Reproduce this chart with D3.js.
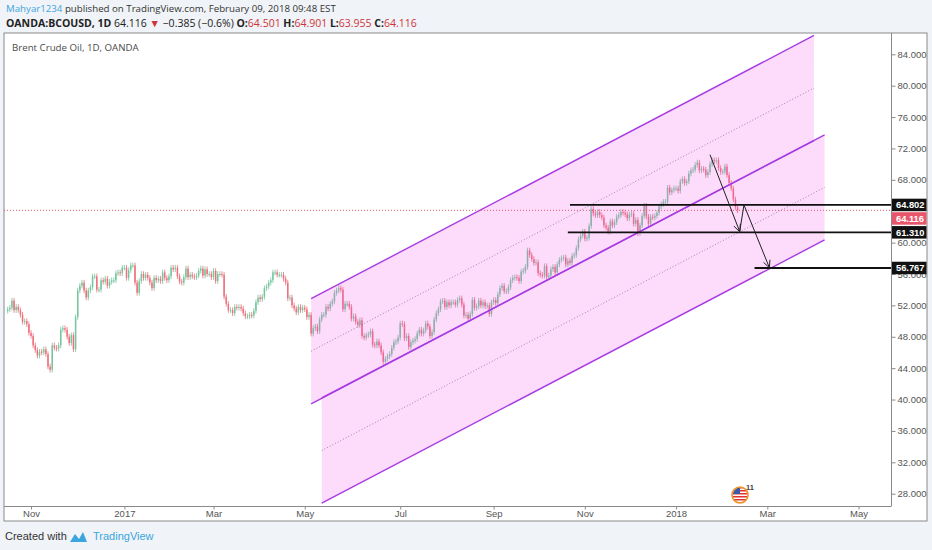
<!DOCTYPE html>
<html>
<head>
<meta charset="utf-8">
<script src="https://cdn.jsdelivr.net/npm/d3@7/dist/d3.min.js"></script>
<style>
  body { margin: 0; background: #f0f3f7; }
  svg { display: block; font-family: "Liberation Sans", Arial, sans-serif; }
</style>
</head>
<body>
<svg id="chart" width="932" height="550"></svg>
<script>
// daily Brent closes, one per weekday from 17 Oct 2016 to 9 Feb 2018
var firstDay = "2016-10-17";
var firstOpen = 51.3;
var closes = [
  // Oct 2016
  51.5, 51.7, 52.6, 51.4, 51.8, 51.4, 50.8, 49.9, 50.0, 49.6, 48.5,
  // Nov
  48.1, 46.9, 46.3, 45.6, 46.1, 46.0, 46.4, 45.8, 44.2, 43.8,
  46.9, 46.6, 46.5, 46.9, 48.9, 49.1, 48.9, 48.0, 47.2, 48.2, 46.4, 50.5,
  // Dec
  53.9, 54.5, 54.9, 53.9, 53.0, 53.9, 54.3, 55.7, 55.7, 54.0,
  54.0, 55.2, 55.0, 55.4, 54.5, 55.0, 55.2, 55.2, 56.1, 56.2, 56.1, 56.8,
  // Jan 2017
  56.8, 55.5, 56.5, 57.1, 57.1, 54.9, 53.6, 55.1, 56.0, 55.5,
  55.9, 55.5, 54.9, 54.2, 55.5, 55.2, 55.4, 55.1, 56.2, 55.5, 55.2, 55.7,
  // Feb
  56.8, 56.6, 56.8, 55.7, 55.05, 54.9, 55.6, 56.7, 55.6, 55.9,
  55.7, 55.6, 55.8, 56.4, 56.7, 55.8, 56.6, 56.0, 56.0, 55.6,
  // Mar
  56.4, 55.1, 56.0, 56.0, 55.9, 53.1, 52.2, 51.4, 51.4, 51.0,
  51.8, 51.7, 51.8, 51.6, 51.0, 50.6, 50.6, 50.8, 50.7, 51.3, 52.4, 53.0, 52.8,
  // Apr
  53.1, 54.2, 54.4, 54.9, 55.2, 56.2, 56.2, 55.9, 55.9, 55.9,
  55.4, 54.9, 52.9, 53.0, 52.0, 51.6, 51.1, 51.8, 51.4, 51.7,
  // May
  51.5, 50.5, 50.8, 48.4, 49.1, 49.3, 48.7, 50.2, 50.8, 50.8,
  51.8, 51.6, 52.2, 52.5, 53.6, 53.9, 54.2, 54.0, 51.5, 52.2, 52.2, 51.8, 50.3,
  // Jun
  50.6, 49.9, 49.5, 50.1, 48.1, 47.9, 48.2, 48.3, 48.7, 47.0,
  46.9, 47.4, 46.9, 46.0, 44.8, 45.2, 45.5, 45.8, 46.6, 47.3, 47.4, 47.9,
  // Jul
  49.7, 49.6, 47.8, 48.1, 46.7, 47.3, 47.5, 47.7, 48.4, 48.9,
  48.4, 48.8, 49.7, 49.3, 48.1, 48.6, 50.2, 51.0, 51.5, 52.5, 52.6,
  // Aug
  51.8, 52.4, 52.0, 52.4, 52.4, 52.1, 52.7, 52.9, 52.1, 50.7,
  50.8, 50.3, 50.9, 52.7, 51.7, 51.9, 52.6, 52.0, 52.4, 51.9, 52.0, 50.9, 52.4,
  // Sep
  52.7, 52.3, 53.4, 54.2, 54.5, 53.8, 53.8, 54.3, 55.2, 55.5,
  55.6, 55.5, 55.1, 56.3, 56.4, 56.9, 59.0, 58.4, 57.9, 57.4, 57.5,
  // Oct
  56.1, 55.9, 55.8, 57.0, 55.6, 55.8, 56.6, 56.9, 56.2, 57.2,
  57.8, 58.0, 58.1, 57.2, 57.7, 57.4, 58.3, 58.4, 59.3, 60.4, 60.9, 61.4,
  // Nov
  60.5, 60.6, 62.1, 64.3, 63.7, 63.5, 63.9, 63.5, 63.2, 62.2,
  61.9, 61.4, 62.7, 62.2, 62.6, 63.3, 63.5, 63.9, 63.8, 63.6, 63.1, 63.6,
  // Dec
  63.7, 62.4, 62.9, 61.2, 62.2, 63.4, 64.7, 63.3, 62.4, 63.3,
  63.2, 63.4, 63.8, 64.6, 64.9, 65.2, 65.2, 67.0, 66.4, 66.7, 66.9,
  // Jan 2018
  66.9, 66.6, 67.8, 68.1, 67.6, 67.8, 68.8, 69.2, 69.3, 69.9,
  70.2, 69.2, 69.4, 69.3, 68.6, 69.0, 70.0, 70.5, 70.4, 70.5, 69.5, 69.0, 69.05,
  // Feb
  69.7, 68.6, 67.6, 66.9, 65.5, 64.5, 64.116
];
var lastPrice = 64.116;
// 64.000 sits under the price tags in the original, so it is left out
var priceTicks = [28, 32, 36, 40, 44, 48, 52, 56, 60, 68, 72, 76, 80, 84];

// drawings: two parallel channels, three levels, two arrows
var channelFrom   = ["2017-05-04", "2017-05-11"];
var channelTo     = ["2018-04-02", "2018-04-09"];
var channelTopA   = [52.86, 86.40];
var channelTopB   = [40.20, 73.74];
var channelHeight = 13.4;
var levels    = [64.802, 61.310, 56.767];
var levelFrom = ["2017-10-23", "2017-10-20", "2018-02-21"];
var arrowOne = [["2018-01-23", 71.2], ["2018-02-12", 61.4]];
var arrowTwo = [["2018-02-12", 61.4], ["2018-02-14", 64.8], ["2018-03-02", 56.8]];

var svg = d3.select("#chart");
var L = 4, R = 891, T = 33, B = 506, W = 927, BB = 521;
var wickPad = 0.35;
var upColor = "#53b987", downColor = "#eb4d5c", purple = "#a83be3";

// trading days (weekdays) so bars sit side by side with no weekend gaps
var parse = d3.utcParse("%Y-%m-%d"), fmt = d3.utcFormat("%Y-%m-%d");
var days = [];
for (var d = parse(firstDay); days.length < 425; d = d3.utcDay.offset(d, 1)) {
  var wd = d.getUTCDay();
  if (wd != 0 && wd != 6) days.push(d);
}
var dayIndex = {};
days.forEach(function(d, i) { dayIndex[fmt(d)] = i; });
function bar(s) { return dayIndex[s]; }

var x = d3.scaleLinear().domain([-1.74, 416.3]).range([L, R]);
var y = d3.scaleLinear().domain([28, 84]).range([493.7, 54.3]);

// pane
svg.append("rect").attr("x", L).attr("y", T).attr("width", W - L).attr("height", BB - T)
  .attr("fill", "#fff").attr("stroke", "#8a8a8a");
svg.append("clipPath").attr("id", "plotclip").append("rect")
  .attr("x", L).attr("y", T).attr("width", R - L).attr("height", B - T);
var plot = svg.append("g").attr("clip-path", "url(#plotclip)");

// candles
var candles = closes.map(function(c, i) {
  return { i: i, o: i ? closes[i - 1] : firstOpen, c: c };
});
var cg = plot.append("g").attr("opacity", 0.8);
cg.selectAll("line").data(candles).enter().append("line")
  .attr("x1", function(d) { return x(d.i); })
  .attr("x2", function(d) { return x(d.i); })
  .attr("y1", function(d) { return y(Math.max(d.o, d.c) + wickPad); })
  .attr("y2", function(d) { return y(Math.min(d.o, d.c) - wickPad); })
  .attr("stroke", function(d) { return d.c >= d.o ? upColor : downColor; })
  .attr("stroke-width", 0.8);
cg.selectAll("rect").data(candles).enter().append("rect")
  .attr("x", function(d) { return x(d.i) - 0.75; })
  .attr("width", 1.5)
  .attr("y", function(d) { return y(Math.max(d.o, d.c)); })
  .attr("height", function(d) { return Math.max(1, Math.abs(y(d.o) - y(d.c))); })
  .attr("fill", function(d) { return d.c >= d.o ? upColor : downColor; });

// channels
var tops = [channelTopA, channelTopB];
tops.forEach(function(top, k) {
  var i0 = bar(channelFrom[k]), i1 = bar(channelTo[k]);
  var pts = [[i0, top[0]], [i1, top[1]], [i1, top[1] - channelHeight], [i0, top[0] - channelHeight]];
  plot.append("path")
    .attr("d", "M" + pts.map(function(p) { return x(p[0]) + "," + y(p[1]); }).join("L") + "Z")
    .attr("fill", "#f050e8").attr("fill-opacity", 0.2);
});
tops.forEach(function(top, k) {
  var i0 = bar(channelFrom[k]), i1 = bar(channelTo[k]);
  [0, channelHeight / 2, channelHeight].forEach(function(off, j) {
    plot.append("line")
      .attr("x1", x(i0)).attr("y1", y(top[0] - off))
      .attr("x2", x(i1)).attr("y2", y(top[1] - off))
      .attr("stroke", j == 1 ? "#8c6d99" : purple)
      .attr("stroke-width", j == 1 ? 0.8 : 1.4)
      .attr("stroke-dasharray", j == 1 ? "1,2" : null);
  });
});

// last price line
plot.append("line").attr("x1", L).attr("x2", R).attr("y1", y(lastPrice)).attr("y2", y(lastPrice))
  .attr("stroke", "#e9566b").attr("stroke-dasharray", "1,2");

// horizontal levels
levels.forEach(function(v, k) {
  plot.append("line").attr("x1", x(bar(levelFrom[k]))).attr("x2", R)
    .attr("y1", y(v)).attr("y2", y(v))
    .attr("stroke", "#111").attr("stroke-width", 1.8);
});

// arrows
function arrow(pts) {
  var p = pts.map(function(q) { return [x(bar(q[0])), y(q[1])]; });
  plot.append("path").attr("d", "M" + p.join("L"))
    .attr("fill", "none").attr("stroke", "#222").attr("stroke-width", 1);
  var a = p[p.length - 2], b = p[p.length - 1];
  var ang = Math.atan2(b[1] - a[1], b[0] - a[0]), len = 8, spread = 0.45;
  var h1 = [b[0] - len * Math.cos(ang - spread), b[1] - len * Math.sin(ang - spread)];
  var h2 = [b[0] - len * Math.cos(ang + spread), b[1] - len * Math.sin(ang + spread)];
  plot.append("path").attr("d", "M" + h1 + "L" + b + "L" + h2)
    .attr("fill", "none").attr("stroke", "#222").attr("stroke-width", 1);
}
arrow(arrowOne);
arrow(arrowTwo);

// borders of plot
svg.append("line").attr("x1", R + 0.5).attr("x2", R + 0.5).attr("y1", T).attr("y2", B)
  .attr("stroke", "#8a8a8a");
svg.append("line").attr("x1", L).attr("x2", R + 0.5).attr("y1", B + 0.5).attr("y2", B + 0.5)
  .attr("stroke", "#8a8a8a");

// price axis
var yAxis = svg.append("g").attr("transform", "translate(" + (R + 0.5) + ",0)")
  .call(d3.axisRight(y).tickValues(priceTicks).tickFormat(d3.format(".3f")).tickSize(4).tickPadding(2));
yAxis.select(".domain").remove();
yAxis.selectAll("line").attr("stroke", "#8a8a8a");
yAxis.selectAll("text").attr("fill", "#555").attr("font-size", 9.5);

// time axis: first bar of every other month
var monthTicks = [];
days.forEach(function(d, i) {
  if (i > 0 && d.getUTCMonth() != days[i - 1].getUTCMonth() && d.getUTCMonth() % 2 == 0 && x(i) < R)
    monthTicks.push(i);
});
var xAxis = svg.append("g").attr("transform", "translate(0," + (B + 0.5) + ")")
  .call(d3.axisBottom(x).tickValues(monthTicks).tickSize(3).tickPadding(1)
    .tickFormat(function(i) {
      var d = days[i];
      return d.getUTCMonth() == 0 ? d.getUTCFullYear() : d3.utcFormat("%b")(d);
    }));
xAxis.select(".domain").remove();
xAxis.selectAll("line").attr("stroke", "#8a8a8a");
xAxis.selectAll("text").attr("fill", "#555").attr("font-size", 9.5);

// price labels on the axis, pushed apart when they overlap
var tags = [
  { v: levels[0], fill: "#111" },
  { v: lastPrice, fill: "#e9566b" },
  { v: levels[1], fill: "#111" },
  { v: levels[2], fill: "#111" }
];
var prev = -1e9, bh = 12.5, gap = 1;
tags.forEach(function(t) {
  var cy = Math.max(y(t.v), prev + bh + gap);
  prev = cy;
  svg.append("rect").attr("x", R + 1).attr("y", cy - bh / 2).attr("width", W - R - 1.5).attr("height", bh)
    .attr("fill", t.fill);
  svg.append("text").attr("x", R + 5).attr("y", cy + 3.3).attr("fill", "#fff")
    .attr("font-size", 9.3).attr("font-weight", "bold").text(d3.format(".3f")(t.v));
});

// event marker (US flag)
var ev = svg.append("g").attr("transform", "translate(740,495)");
ev.append("clipPath").attr("id", "flagclip").append("circle").attr("r", 7.5);
var fl = ev.append("g").attr("clip-path", "url(#flagclip)");
fl.append("rect").attr("x", -8).attr("y", -8).attr("width", 16).attr("height", 16).attr("fill", "#fff");
d3.range(-8, 8, 3).forEach(function(s) {
  fl.append("rect").attr("x", -8).attr("y", s).attr("width", 16).attr("height", 1.5).attr("fill", "#e2332f");
});
fl.append("rect").attr("x", -8).attr("y", -8).attr("width", 8).attr("height", 7).attr("fill", "#3b5ba8");
ev.append("circle").attr("r", 8).attr("fill", "none").attr("stroke", "#f0932b").attr("stroke-width", 1.6);
ev.append("text").attr("x", 6).attr("y", -5).attr("font-size", 7.5).attr("font-weight", "bold")
  .attr("fill", "#444").text("11");

// header
var h1 = svg.append("text").attr("x", 6).attr("y", 12).attr("font-size", 9.7)
  .attr("font-family", "'Open Sans', sans-serif").attr("fill", "#333");
h1.append("tspan").attr("fill", "#3ca5dc").text("Mahyar1234");
h1.append("tspan").text(" published on TradingView.com, February 09, 2018 09:48 EST");

var red = "#d0343a";
var h2 = svg.append("text").attr("x", 6).attr("y", 27).attr("font-size", 10.5)
  .attr("font-family", "'Open Sans', sans-serif").attr("fill", "#222");
h2.append("tspan").attr("font-weight", "bold").text("OANDA:BCOUSD, 1D");
h2.append("tspan").text("  64.116 ");
h2.append("tspan").attr("fill", red).text("▼");
h2.append("tspan").text(" −0.385 (−0.6%) ");
[["O:", "64.501"], [" H:", "64.901"], [" L:", "63.955"], [" C:", "64.116"]].forEach(function(p) {
  h2.append("tspan").attr("font-weight", "bold").text(p[0]);
  h2.append("tspan").attr("fill", red).text(p[1]);
});

svg.append("text").attr("x", 12).attr("y", 51).attr("font-size", 9.7)
  .attr("font-family", "'Open Sans', sans-serif").attr("fill", "#4a4a4a")
  .text("Brent Crude Oil, 1D, OANDA");

// footer
svg.append("text").attr("x", 5).attr("y", 540).attr("font-size", 11)
  .attr("font-family", "'Liberation Sans Narrow', 'Liberation Sans', sans-serif").attr("fill", "#333")
  .text("Created with");
var logo = svg.append("g").attr("transform", "translate(70,531)").attr("fill", "#3ba5dd");
logo.append("path").attr("d", "M0,11 L5,3 L9,8 L13,1 L17,11 Z");
svg.append("text").attr("x", 93).attr("y", 540).attr("font-size", 11)
  .attr("font-family", "'Liberation Sans Narrow', 'Liberation Sans', sans-serif").attr("fill", "#3ba5dd")
  .text("TradingView");
</script>
</body>
</html>
